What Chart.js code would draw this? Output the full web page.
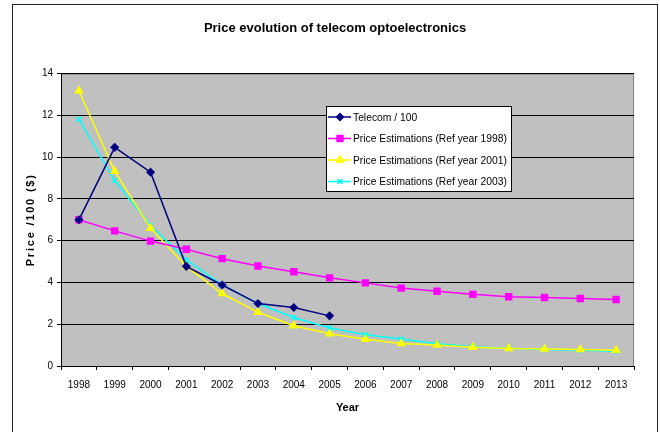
<!DOCTYPE html>
<html>
<head>
<meta charset="utf-8">
<script src="https://cdn.jsdelivr.net/npm/chart.js@4"></script>
<style>
  body { margin: 0; background: #fff; }
  #wrap { width: 660px; height: 432px; }
</style>
</head>
<body>
<div id="wrap"><canvas id="priceChart" width="660" height="432"></canvas></div>
<script>
const years = ['1998', '1999', '2000', '2001', '2002', '2003', '2004', '2005',
  '2006', '2007', '2008', '2009', '2010', '2011', '2012', '2013'];
const telecom = [7.0, 10.47, 9.28, 4.77, 3.88, 2.99, 2.8, 2.4];
const ref1998 = [7.0, 6.47, 5.98, 5.59, 5.14, 4.79, 4.51, 4.22, 3.98, 3.73, 3.58, 3.43, 3.32, 3.28, 3.23, 3.18];
const ref2001 = [13.18, 9.32, 6.6, 4.77, 3.47, 2.57, 1.93, 1.54, 1.28, 1.08, 1.0, 0.9, 0.84, 0.81, 0.79, 0.76];
const ref2003 = [11.81, 8.88, 6.73, 5.08, 3.88, 2.99, 2.32, 1.82, 1.5, 1.29, 1.06, 0.92, 0.84, 0.79, 0.75, 0.71];
const yTicks = [0, 2, 4, 6, 8, 10, 12, 14];

const FONT = '"Liberation Sans", Arial, sans-serif';
Chart.defaults.font.family = FONT;
Chart.defaults.color = '#000';

// grey plot area, outer frame, spaced y title
const frame = {
  id: 'frame',
  beforeDraw(chart) {
    const { ctx, chartArea: a } = chart;
    ctx.save();
    ctx.fillStyle = '#fff';
    ctx.fillRect(0, 0, chart.width, chart.height);
    ctx.fillStyle = '#c0c0c0';
    ctx.fillRect(a.left, a.top, a.right - a.left, a.bottom - a.top);
    ctx.strokeStyle = '#808080';
    ctx.lineWidth = 1;
    ctx.strokeRect(a.left + 0.5, a.top + 0.5, a.right - a.left - 1, a.bottom - a.top);
    ctx.strokeStyle = '#222';
    ctx.strokeRect(12.5, 4.5, 645, 500);
    ctx.restore();
  },
  afterDraw(chart) {
    const { ctx, chartArea: a } = chart;
    ctx.save();
    ctx.translate(31, (a.top + a.bottom) / 2);
    ctx.rotate(-Math.PI / 2);
    ctx.font = 'bold 11px ' + FONT;
    ctx.letterSpacing = '1.8px';
    ctx.textAlign = 'center';
    ctx.textBaseline = 'middle';
    ctx.fillStyle = '#000';
    ctx.fillText('Price /100 ($)', 0, 0);
    ctx.restore();
  }
};

// legend box drawn inside the plot like the original
const boxLegend = {
  id: 'boxLegend',
  afterDatasetsDraw(chart) {
    const { ctx } = chart;
    const x = 326, y = 106, w = 185, h = 85;
    ctx.save();
    ctx.fillStyle = '#fff';
    ctx.fillRect(x, y, w, h);
    ctx.strokeStyle = '#000';
    ctx.lineWidth = 1;
    ctx.strokeRect(x + 0.5, y + 0.5, w, h);
    ctx.font = '10.3px ' + FONT;
    ctx.textBaseline = 'middle';
    chart.data.datasets.forEach((ds, i) => {
      const ry = 117 + i * 21.5;
      ctx.strokeStyle = ds.borderColor;
      ctx.lineWidth = 1.5;
      ctx.beginPath();
      ctx.moveTo(x + 2, ry);
      ctx.lineTo(x + 25, ry);
      ctx.stroke();
      ctx.fillStyle = ds.backgroundColor;
      Chart.helpers.drawPoint(ctx, {
        pointStyle: ds.pointStyle, radius: ds.pointRadius, borderWidth: 1.5, rotation: 0
      }, x + 14, ry);
      ctx.fillStyle = '#000';
      ctx.fillText(ds.label, x + 27, ry + 1);
    });
    ctx.restore();
  }
};

new Chart(document.getElementById('priceChart'), {
  type: 'line',
  data: {
    labels: years,
    datasets: [
      { label: 'Telecom / 100', data: telecom, borderColor: '#000080', backgroundColor: '#000080',
        pointStyle: 'rectRot', pointRadius: 3.5 },
      { label: 'Price Estimations (Ref year 1998)', data: ref1998, borderColor: '#ff00ff', backgroundColor: '#ff00ff',
        pointStyle: 'rect', pointRadius: 4.2 },
      { label: 'Price Estimations (Ref year 2001)', data: ref2001, borderColor: '#ffff00', backgroundColor: '#ffff00',
        pointStyle: 'triangle', pointRadius: 4 },
      { label: 'Price Estimations (Ref year 2003)', data: ref2003, borderColor: '#00ffff', backgroundColor: '#00ffff',
        pointStyle: 'crossRot', pointRadius: 3.5 }
    ].map(d => Object.assign(d, { borderWidth: 1.5, pointBorderWidth: 1.5, tension: 0, fill: false }))
  },
  options: {
    responsive: false,
    animation: false,
    layout: { padding: { left: 10, right: 0, top: 0, bottom: 0 } },
    plugins: {
      legend: { display: false },
      tooltip: { enabled: false },
      title: {
        display: true,
        text: 'Price evolution of telecom optoelectronics',
        font: { size: 13, weight: 'bold' },
        color: '#000',
        padding: { top: 21, bottom: 37 }
      }
    },
    scales: {
      x: {
        offset: true,
        grid: { offset: true, drawOnChartArea: false, color: '#000', tickLength: 4 },
        border: { color: '#000' },
        ticks: { font: { size: 10 }, padding: 9, maxRotation: 0, autoSkip: false },
        title: { display: true, text: 'Year', font: { size: 11, weight: 'bold' }, padding: { top: 0, bottom: 17 } },
        afterFit(scale) { scale.height = 66; }
      },
      y: {
        min: 0,
        max: 14,
        afterBuildTicks(scale) { scale.ticks = yTicks.map(v => ({ value: v })); },
        grid: { color: '#000', tickLength: 4 },
        border: { color: '#000' },
        ticks: { font: { size: 10 }, padding: 4 },
        afterFit(scale) { scale.width = 51; }
      },
      spacer: {
        type: 'linear',
        position: 'right',
        display: true,
        grid: { display: false },
        border: { display: false },
        ticks: { display: false },
        afterFit(scale) { scale.width = 26; }
      }
    }
  },
  plugins: [frame, boxLegend]
});
</script>
</body>
</html>
